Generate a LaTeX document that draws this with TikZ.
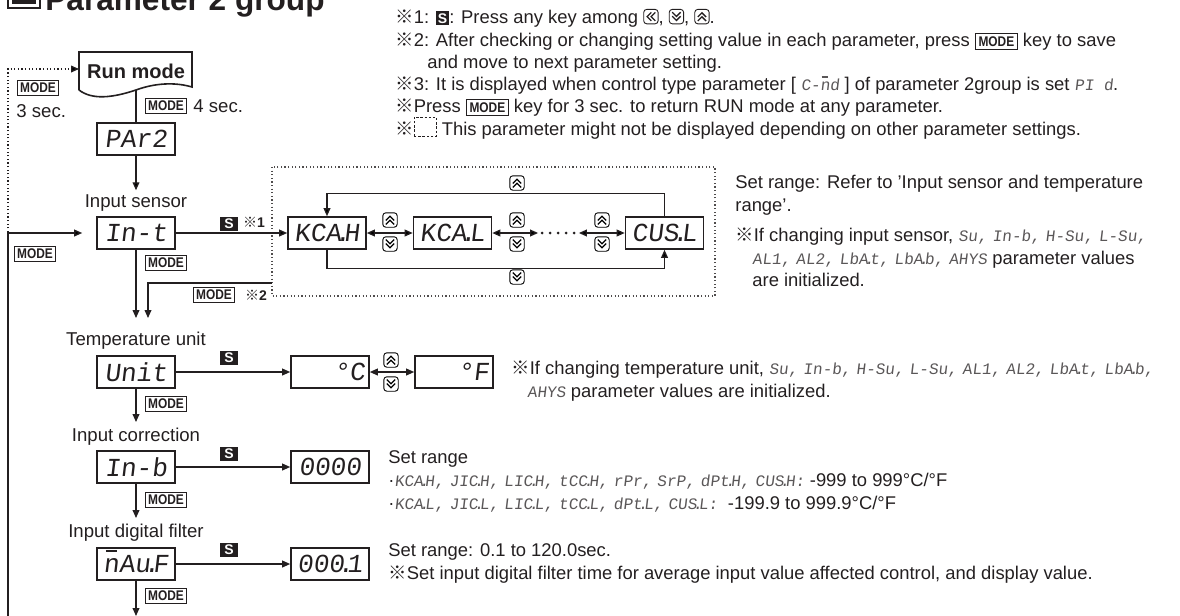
\documentclass[tikz,border=0pt]{standalone}
\usepackage{fontspec}
\usepackage{graphicx}
\setmainfont{Liberation Sans}
\newfontfamily\segfont[FakeSlant=0.12]{Liberation Mono}
\newfontfamily\cjk{Noto Sans CJK JP}
\usetikzlibrary{arrows.meta}
\definecolor{ink}{HTML}{231F20}

\newcommand{\rmk}{{\cjk ※}}
\newcommand{\dt}{\kern-.25em.\kern-.25em}
\newcommand{\nbar}{\ooalign{n\cr\hidewidth\rule[.78em]{.42em}{.07em}\hidewidth\cr}}
\newcommand{\sg}[1]{{\segfont\fontsize{8}{8}\selectfont\color{ink!75}#1}}
\newcommand{\modebox}{{\setlength{\fboxsep}{1.3pt}\setlength{\fboxrule}{.5pt}\fbox{\fontsize{7}{7}\selectfont\bfseries\scalebox{.85}[1]{MODE}}}}
\newcommand{\skey}{{\setlength{\fboxsep}{1pt}\colorbox{ink}{\color{white}\fontsize{7}{7}\selectfont\bfseries S}}}
\newcommand{\keyic}[1]{\tikz[x=1pt,y=1pt,baseline=-3.2pt,line width=.45pt,rotate=#1]{\draw[rounded corners=1.5pt] (-3.6,-3.6) rectangle (3.6,3.6); \draw[line width=.65pt] (-2.1,-.2)--(0,1.9)--(2.1,-.2) (-2.1,-2.2)--(0,-.1)--(2.1,-2.2);}}
\newcommand{\dashbx}{\tikz[x=1pt,y=1pt,baseline=-1.5pt]\draw[line width=.45pt,dash pattern=on 1.2pt off .9pt] (0,-2) rectangle (11,7.5);}

\begin{document}
\begin{tikzpicture}[x=.5pt,y=-.5pt,>={Triangle[length=4pt,width=3.4pt]},
    txt/.style={text=ink,font=\fontsize{9.2}{11}\selectfont,inner sep=0pt,anchor=base west},
    lbl/.style={text=ink,font=\fontsize{9.3}{11}\selectfont,inner sep=0pt},
    seg/.style={draw=ink,line width=.8pt,minimum width=39pt,minimum height=16pt,inner sep=0pt,text=ink,font=\segfont\fontsize{13}{13}\selectfont},
    segr/.style={seg,text width=35pt,align=right},
    modekey/.style={draw=ink,line width=.5pt,inner sep=1.3pt,text=ink,font=\fontsize{7}{7}\selectfont\bfseries},
    skey/.style={fill=ink,text=white,inner sep=0pt,minimum width=9pt,minimum height=7pt,font=\fontsize{7}{7}\selectfont\bfseries},
    note/.style={text=ink,inner sep=0pt,font=\fontsize{7}{7}\selectfont},
    key/.style={inner sep=0pt},
    conn/.style={draw=ink,line width=.65pt}]
\useasboundingbox (0,0) rectangle (1180,616);

% title
\draw[ink,line width=1pt] (8,-24) rectangle (40,8);
\fill[ink] (12,-20) rectangle (36,4);
\node[anchor=base west,inner sep=0pt,text=ink,font=\fontsize{15.8}{16}\selectfont\bfseries] (ttl) at (45,10) {Parameter 2 group};

% notes
\node[txt] (r1) at (395,23) {\rmk1: \skey: Press any key among \keyic{90}, \keyic{180}, \keyic{0}.};
\node[txt] (r2) at (395,46) {\rmk2: After checking or changing setting value in each parameter, press \modebox\ key to save};
\node[txt] (r2b) at (427,68) {and move to next parameter setting.};
\node[txt] (r3) at (395,90) {\rmk3: It is displayed when control type parameter [ \sg{C-\nbar d} ] of parameter 2group is set \sg{PI d}.};
\node[txt] (r4) at (395,112) {\rmk Press \modebox\ key for 3 sec. to return RUN mode at any parameter.};
\node[txt] (r5) at (395,135) {\rmk\dashbx\ This parameter might not be displayed depending on other parameter settings.};

% run mode
\node[inner sep=0pt,text=ink,font=\fontsize{10}{10}\selectfont\bfseries] (run) at (136,71) {Run mode};
\draw[ink,line width=.8pt] (79,90) -- (79,52) -- (192,52) -- (192,87) .. controls (175,82) and (155,83) .. (136,90) .. controls (112,98) and (92,100) .. (79,90);
\coordinate (runb) at (136,90);
\coordinate (runw) at (79,69);
\node[seg] (par) at (136,139) {PAr2};
\draw[conn] (runb) -- (par);
\node[modekey] (m0) at (166,106) {\scalebox{.85}[1]{MODE}};
\node[lbl,anchor=west] (s4) at (193,106) {4 sec.};

% left return
\node[lbl] (lsen) at (136,203) {Input sensor};
\node[seg] (int) at (136,233) {In-t};
\draw[conn,->,shorten >=2pt] (par) -- (lsen.north);
\coordinate (lp) at (8,616);
\coordinate (dtop) at (8,232);
\draw[conn,->,shorten >=7pt] (lp) |- (int.west);
\draw[conn,dash pattern=on .6pt off 1.2pt,->] (dtop) |- (runw);
\node[modekey] (ml1) at (38,88) {\scalebox{.85}[1]{MODE}};
\node[lbl,anchor=west] (s3) at (16,111) {3 sec.};
\node[modekey] (ml2) at (35,254) {\scalebox{.85}[1]{MODE}};

% input sensor loop
\draw[ink!80,line width=.6pt,dash pattern=on .6pt off 1.2pt] (272,167) rectangle (715,296);
\node[seg] (ycah) at (327,233) {KCA\dt H};
\node[seg] (ycal) at (452.5,233) {KCA\dt L};
\node[seg] (cusl) at (664.5,233) {CUS\dt L};
\node[minimum width=20pt,inner sep=0pt] (dots) at (558.5,233) {};
\draw[ink,line width=1.5pt,line cap=round,dash pattern=on 0pt off 4pt] ([xshift=2pt]dots.west) -- ([xshift=-2pt]dots.east);
\draw[conn,->] (int) -- (ycah);
\node[skey] (s1) at (229,224) {S};
\node[note] (n1) at (254,222) {\rmk\textbf{1}};
\draw[conn,<->] (ycah) -- (ycal);
\draw[conn,<->] (ycal) -- (dots);
\draw[conn,<->] (dots) -- (cusl);
\draw[conn,->] (cusl.north) -- ++(0,-23) -| (ycah.north);
\draw[conn,->] (ycah.south) -- ++(0,19) -| (cusl.south);
\foreach \x/\n in {390/1,517/2,602/3} {
  \node[key] (ku\n) at (\x,220) {\keyic{0}};
  \node[key] (kd\n) at (\x,244) {\keyic{180}};
}
\node[key] (ku4) at (517,183) {\keyic{0}};
\node[key] (kd4) at (517,277) {\keyic{180}};

% to temperature unit
\coordinate (c2) at (272,283);
\coordinate (t1) at (136,318);
\coordinate (t2) at (148,318);
\draw[conn,->] (int) -- (t1);
\draw[conn,->] (c2) -| (t2);
\node[modekey] (mi) at (166,263) {\scalebox{.85}[1]{MODE}};
\node[modekey] (m2) at (214,295) {\scalebox{.85}[1]{MODE}};
\node[note] (n2) at (256,295) {\rmk\textbf{2}};

% temperature unit
\node[lbl] (lunit) at (136,341) {Temperature unit};
\node[seg] (unit) at (136,372) {Unit};
\node[segr] (degc) at (330,372) {°C};
\node[segr] (degf) at (454,372) {°F};
\draw[conn,->] (unit) -- (degc);
\draw[conn,<->] (degc) -- (degf);
\node[skey] (s5) at (229,358) {S};
\node[key] (ku5) at (391,360) {\keyic{0}};
\node[key] (kd5) at (391,384) {\keyic{180}};
\coordinate (t3) at (136,422);
\draw[conn,->] (unit) -- (t3);
\node[modekey] (mu) at (166,404) {\scalebox{.85}[1]{MODE}};

% input correction
\node[lbl] (lcor) at (136,437) {Input correction};
\node[seg] (inb) at (136,467) {In-b};
\node[seg] (zero) at (330,467) {0000};
\draw[conn,->] (inb) -- (zero);
\node[skey] (s6) at (229,454) {S};
\coordinate (t4) at (136,518);
\draw[conn,->] (inb) -- (t4);
\node[modekey] (mb) at (166,500) {\scalebox{.85}[1]{MODE}};

% input digital filter
\node[lbl] (lfil) at (136,533) {Input digital filter};
\node[seg] (mav) at (136,564) {\nbar Au\dt F};
\node[seg] (filt) at (330,564) {000\dt 1};
\draw[conn,->] (mav) -- (filt);
\node[skey] (s7) at (229,550) {S};
\coordinate (t5) at (136,616);
\draw[conn,->] (mav) -- (t5);
\node[modekey] (mf) at (166,596) {\scalebox{.85}[1]{MODE}};

% right texts
\node[txt] (a1) at (735,188) {Set range: Refer to 'Input sensor and temperature};
\node[txt] (a2) at (735,211) {range'.};
\node[txt] (b1) at (735,241) {\rmk If changing input sensor, \sg{Su,} \sg{In-b,} \sg{H-Su,} \sg{L-Su,}};
\node[txt] (b2) at (752,264) {\sg{AL1,} \sg{AL2,} \sg{LbA\dt t,} \sg{LbA\dt b,} \sg{AHYS} parameter values};
\node[txt] (b3) at (752,286) {are initialized.};
\node[txt] (c1) at (511,374) {\rmk If changing temperature unit, \sg{Su,} \sg{In-b,} \sg{H-Su,} \sg{L-Su,} \sg{AL1,} \sg{AL2,} \sg{LbA\dt t,} \sg{LbA\dt b,}};
\node[txt] (c2t) at (527,397) {\sg{AHYS} parameter values are initialized.};
\node[txt] (d1) at (388,463) {Set range};
\node[txt] (d2) at (388,486) {·\sg{KCA\dt H,} \sg{JIC\dt H,} \sg{LIC\dt H,} \sg{tCC\dt H,} \sg{rPr,} \sg{SrP,} \sg{dPt\dt H,} \sg{CUS\dt H:} -999 to 999°C/°F};
\node[txt] (d3) at (388,509) {·\sg{KCA\dt L,} \sg{JIC\dt L,} \sg{LIC\dt L,} \sg{tCC\dt L,} \sg{dPt\dt L,} \sg{CUS\dt L:}\ \ -199.9 to 999.9°C/°F};
\node[txt] (e1) at (388,556) {Set range: 0.1 to 120.0sec.};
\node[txt] (e2) at (388,579) {\rmk Set input digital filter time for average input value affected control, and display value.};
\end{tikzpicture}
\end{document}
